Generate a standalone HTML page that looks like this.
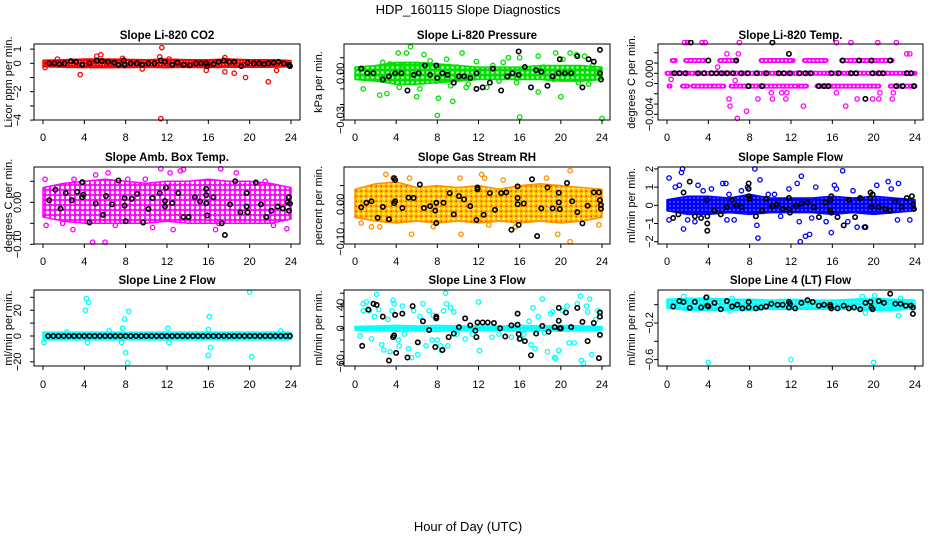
<!DOCTYPE html>
<html><head><meta charset="utf-8"><style>
html,body{margin:0;padding:0;background:#fff;}
svg{display:block;font-family:"Liberation Sans",Arial,sans-serif;}
</style></head><body>
<svg id="chart" width="936" height="540" viewBox="0 0 936 540" xmlns="http://www.w3.org/2000/svg">
<defs>
<pattern id="pat-red" width="3" height="3" patternUnits="userSpaceOnUse"><rect width="3" height="3" fill="#ff0000"/><circle cx="1.5" cy="1.5" r="0.6" fill="#ff9090"/></pattern>
<pattern id="pat-green" width="5" height="5" patternUnits="userSpaceOnUse"><rect width="5" height="5" fill="#00e000"/><circle cx="2.5" cy="2.5" r="1.3" fill="#c0ffc0"/></pattern>
<pattern id="pat-magenta" width="5" height="5" patternUnits="userSpaceOnUse"><rect width="5" height="5" fill="#ff00ff"/><circle cx="2.5" cy="2.5" r="1.7" fill="#ffffff"/></pattern>
<pattern id="pat-rh" width="5" height="5" patternUnits="userSpaceOnUse"><rect width="5" height="5" fill="#ffc000"/><circle cx="1.2" cy="1.2" r="0.8" fill="#ff2000"/><circle cx="3.7" cy="3.7" r="1.1" fill="#ffff80"/></pattern>
<pattern id="pat-blue" width="4" height="4" patternUnits="userSpaceOnUse"><rect width="4" height="4" fill="#0000ff"/><circle cx="2" cy="2" r="0.9" fill="#7070ff"/></pattern>
<pattern id="pat-cyan" width="4" height="4" patternUnits="userSpaceOnUse"><rect width="4" height="4" fill="#00ffff"/><circle cx="2" cy="2" r="0.9" fill="#b0ffff"/></pattern>
</defs>
<text x="468" y="14" text-anchor="middle" font-size="13">HDP_160115  Slope Diagnostics</text>
<text x="468" y="531" text-anchor="middle" font-size="13">Hour of Day (UTC)</text>
</svg>
<script>
// ---------- data ----------
const bandHours = [0,2,4,6,8,10,12,14,16,18,20,22,24];
const xTicks = [0,4,8,12,16,20,24];

const co2BandLo = [-0.25,-0.28,-0.3,-0.3,-0.3,-0.28,-0.3,-0.28,-0.3,-0.28,-0.28,-0.28,-0.25];
const co2BandHi = [0.22,0.25,0.3,0.3,0.28,0.25,0.3,0.25,0.25,0.3,0.25,0.25,0.2];
const co2Points = [[11.5,1.1],[11.4,-3.9],[3.6,-0.8],[21.8,-1.3],[19.6,-1.0],[17.6,-0.6],[18.5,-0.7],[15.8,-0.5],[22.6,-0.5],[5.2,0.5],[5.6,0.6],[11.3,0.45],[17.6,0.4],[1.4,0.3],[0.2,-0.3],[9.6,-0.4],[12.2,0.3],[7.7,0.35]];
const co2Black = [[0.6,0],[1.1,0],[1.6,-0.05],[2.1,0],[2.7,0.15],[3.2,0.1],[3.8,-0.1],[4.5,0],[5.2,0.2],[5.7,0.15],[6.3,0.1],[6.9,0.05],[7.3,-0.1],[7.8,0.2],[7.9,-0.1],[8.5,0],[9.1,0],[9.6,-0.1],[10.2,0],[10.8,0],[11.4,0.2],[11.8,0.1],[12.5,-0.1],[13.0,0.05],[13.6,-0.1],[14.2,-0.15],[14.8,0],[15.3,0],[15.8,0],[15.9,-0.2],[16.5,-0.05],[17.0,0.1],[17.5,0.2],[18.0,0.1],[18.5,0.1],[19.2,-0.2],[19.8,0.05],[20.4,0],[20.9,0],[21.4,-0.05],[21.8,0],[22.3,0.05],[22.8,0.1],[23.3,0],[23.8,-0.1],[23.9,-0.2]];

const presBandLo = [-0.004,-0.005,-0.007,-0.007,-0.006,-0.005,-0.004,-0.004,-0.004,-0.004,-0.005,-0.005,-0.004];
const presBandHi = [0.004,0.005,0.007,0.007,0.006,0.005,0.004,0.004,0.004,0.005,0.005,0.005,0.004];
const presPoints = [[5.4,0.017],[4.2,0.013],[5.0,0.013],[10.4,0.013],[6.7,0.012],[19.5,0.013],[20.9,0.013],[21.5,0.012],[22.3,0.011],[14.9,0.010],[16.0,0.010],[17.8,0.011],[11.8,0.0075],[0.8,-0.010],[2.4,-0.014],[3.1,-0.013],[4.3,-0.009],[5.1,-0.011],[6.0,-0.015],[6.3,-0.010],[8.1,-0.016],[9.5,-0.018],[8.0,-0.027],[16.0,-0.028],[24.0,-0.029],[20.0,-0.015],[17.8,-0.012],[21.7,-0.006],[12.8,-0.009],[10.8,-0.009],[14.0,-0.005],[19.3,-0.004],[3.4,0.006],[4.7,0.005],[8.9,0.009],[9.9,0.004],[13.4,0.005],[18.3,0.004],[20.2,0.009],[23.1,0.005],[7.9,-0.005],[15.7,-0.006],[2.7,0.007],[7.3,0.008],[9.3,-0.008],[11.0,-0.007],[14.4,0.007],[22.7,-0.007]];
const presBlack = [[0.6,0.003],[1.2,0],[1.8,0],[2.7,-0.004],[3.3,-0.002],[3.9,0],[4.5,0],[5.1,-0.011],[5.7,-0.001],[6.2,0],[6.8,0.005],[7.3,-0.001],[7.9,0.005],[8.0,-0.003],[8.5,0],[9.0,-0.001],[9.6,-0.006],[10.1,-0.002],[10.6,-0.002],[11.2,-0.003],[11.8,0],[11.8,-0.010],[12.4,-0.009],[13.1,-0.006],[13.4,0.003],[14.2,-0.011],[14.8,-0.002],[15.3,0],[15.9,0.014],[15.9,-0.001],[16.5,0.004],[17.1,-0.009],[17.6,0.002],[18.1,0.001],[18.7,-0.008],[19.2,-0.002],[19.8,0],[19.9,0.009],[20.4,0],[21.0,0],[21.6,0.011],[22.1,-0.009],[22.7,0.009],[23.2,0.0075],[23.8,0.015],[23.9,-0.004],[23.8,0]];

const tempSegments = [[0,0,24],[0.00125,0.5,0.8],[0.00125,1.8,3.6],[0.00125,5.1,6.7],[0.00125,9.1,12.2],[0.00125,13.3,15.4],[0.00125,16.9,20.5],[0.00125,20.7,21.8],[-0.00125,0.2,0.3],[-0.00125,1.5,2.0],[-0.00125,2.5,4.4],[-0.00125,4.5,5.5],[-0.00125,6.2,9.0],[-0.00125,9.2,12.8],[-0.00125,12.9,13.5],[-0.00125,14.5,20.5],[-0.00125,21.6,24]];
const tempPoints = [[0.4,-0.0006],[4.9,0.0006],[5.8,0.0019],[6.6,-0.0007],[6.9,0.0019],[7.0,0.003],[6.8,-0.0044],[7.7,-0.0037],[6.0,-0.0025],[6.1,-0.0032],[8.8,-0.0025],[10.1,-0.0019],[10.2,-0.0025],[11.1,-0.0019],[11.6,-0.0019],[11.5,-0.0025],[13.2,-0.0032],[16.4,-0.0019],[17.3,-0.0032],[18.4,-0.0025],[19.9,-0.0025],[20.5,-0.0025],[20.6,-0.0019],[21.8,-0.0025],[21.9,-0.0019],[23.2,0.0019],[23.5,0.0019],[1.7,0.003],[2.0,0.003],[3.4,0.003],[3.7,0.003],[16.4,0.003],[17.8,0.003],[20.4,0.003],[22.2,0.003]];
const tempBlack = [[0.7,0],[1.2,0],[1.8,0],[2.3,0.003],[3.0,0],[3.6,0],[4.0,0.00125],[4.3,0],[4.8,0],[5.3,0],[5.8,0],[6.4,0],[6.7,0.00125],[7.2,0],[7.8,0],[7.9,-0.00125],[8.7,0],[9.2,-0.00125],[9.6,0],[10.2,0.003],[10.8,0],[11.3,0],[11.8,0.0019],[11.9,0],[12.8,0],[13.4,0],[13.9,0],[14.7,-0.00125],[15.2,-0.00125],[15.6,-0.00125],[15.9,0],[16.6,0],[17.0,0.00125],[17.8,0],[18.3,0],[18.6,0.00125],[19.2,-0.0025],[19.8,0.00125],[19.9,0],[20.5,0],[20.9,0],[21.6,0.00125],[22.2,-0.00125],[22.8,-0.00125],[23.2,0],[23.6,0],[23.9,-0.00125]];

const ambBandLo = [-0.035,-0.045,-0.05,-0.05,-0.05,-0.05,-0.045,-0.05,-0.05,-0.05,-0.05,-0.05,-0.04];
const ambBandHi = [0.035,0.045,0.05,0.055,0.05,0.045,0.05,0.05,0.055,0.05,0.05,0.045,0.035];
const ambPoints = [[4.8,-0.095],[6.0,-0.095],[0.3,-0.055],[1.9,-0.05],[2.9,-0.065],[11.4,0.08],[13.3,0.075],[17.2,0.08],[16.7,-0.065],[17.0,-0.05],[23.6,-0.063],[5.1,0.065],[6.3,0.07],[9.9,0.055],[8.2,0.055],[12.3,0.07],[18.7,0.07],[0.2,0.055],[21.5,0.05],[3.0,0.055],[13.6,0.078],[7.0,-0.055],[10.6,-0.06],[12.6,-0.065],[22.3,-0.055]];
const ambBlack = [[0.6,0.005],[1.2,0.03],[1.7,-0.015],[2.2,0.022],[2.8,0.005],[3.3,0.025],[3.8,0.048],[3.8,0.012],[3.9,0.018],[4.5,-0.048],[5.1,-0.003],[5.8,-0.03],[6.1,0.015],[6.7,-0.005],[7.3,0.052],[7.9,0.01],[7.9,-0.008],[8.0,-0.045],[8.6,0.008],[9.1,0.02],[9.7,-0.048],[10.2,-0.016],[10.6,0.01],[11.3,0.022],[11.8,-0.01],[11.8,0.003],[11.9,0.035],[12.5,-0.002],[13.1,0.022],[13.6,-0.035],[14.1,-0.035],[14.7,0.012],[15.2,0.002],[15.8,-0.002],[15.8,0.017],[15.8,0.032],[15.9,-0.031],[16.5,0.012],[17.3,-0.05],[17.6,-0.078],[18.1,-0.005],[18.6,0.05],[19.1,-0.024],[19.7,0.022],[19.7,-0.01],[19.8,-0.024],[20.6,0.047],[21.1,-0.005],[21.6,-0.035],[22.1,-0.02],[22.7,-0.01],[23.2,-0.015],[23.7,0.0],[23.8,0.012],[23.8,-0.02],[23.9,-0.003]];

const rhBandLo = [-0.035,-0.045,-0.05,-0.045,-0.05,-0.045,-0.05,-0.045,-0.05,-0.045,-0.05,-0.045,-0.035];
const rhBandHi = [0.04,0.055,0.06,0.045,0.05,0.045,0.05,0.04,0.05,0.055,0.05,0.045,0.04];
const rhPoints = [[3.0,0.08],[3.7,0.07],[5.3,0.07],[10.2,0.07],[12.3,0.08],[12.6,0.07],[20.9,0.09],[0.6,-0.05],[1.6,-0.06],[5.5,-0.08],[10.3,-0.08],[19.7,-0.08],[20.9,-0.1],[23.7,-0.055],[15.6,-0.06],[13.0,-0.055],[14.4,0.065],[18.6,0.07],[7.6,-0.06],[2.4,-0.06]];
const rhBlack = [[0.6,-0.008],[1.1,0.004],[1.6,0.008],[2.2,-0.036],[2.7,-0.007],[3.3,-0.04],[3.8,0.07],[3.9,0.065],[3.8,0.003],[3.9,0.008],[4.6,-0.01],[5.2,0.018],[5.7,0.017],[6.3,0.053],[6.7,-0.01],[7.3,-0.005],[7.8,-0.017],[7.9,-0.05],[7.9,0.004],[8.6,0.004],[9.2,0.03],[9.6,-0.027],[10.1,0.022],[10.6,0.013],[11.2,-0.005],[11.8,-0.042],[11.9,0.04],[11.9,0.045],[12.5,-0.028],[13.1,0.03],[13.6,-0.015],[14.2,0.03],[14.7,0.032],[15.2,-0.068],[15.8,0.048],[15.8,0.017],[15.8,0.0],[15.9,-0.055],[16.4,0.002],[17.2,0.067],[17.7,-0.085],[18.1,-0.011],[18.7,0.045],[19.2,-0.011],[19.8,0.031],[19.8,0.005],[19.9,-0.013],[20.6,0.057],[21.1,0.008],[21.6,-0.021],[22.1,-0.051],[22.6,-0.004],[23.2,0.032],[23.7,0.032],[23.8,0.011],[23.9,-0.012],[23.9,-0.002]];

const flowBandLo = [-0.3,-0.5,-0.5,-0.4,-0.5,-0.4,-0.4,-0.4,-0.5,-0.4,-0.5,-0.4,-0.3];
const flowBandHi = [0.3,0.5,0.5,0.4,0.6,0.4,0.4,0.4,0.5,0.4,0.5,0.4,0.3];
const flowPoints = [[0.2,1.5],[0.2,-0.8],[0.8,1.0],[1.2,1.1],[1.4,1.8],[1.5,2.0],[1.6,-1.3],[3.0,1.1],[4.3,0.9],[5.4,1.2],[5.7,1.2],[6.5,-0.8],[7.8,1.0],[8.5,2.0],[8.7,-1.1],[8.8,-1.8],[9.0,1.4],[11.8,0.9],[12.6,1.2],[12.8,-0.9],[12.9,-2.0],[13.0,1.6],[13.4,-1.7],[13.8,-1.6],[14.4,1.0],[15.9,-1.5],[16.2,1.1],[17.0,1.9],[18.0,0.8],[18.4,-1.2],[19.1,-1.2],[20.3,1.1],[21.4,1.3],[21.7,0.9],[22.3,-0.8],[22.4,1.2],[23.5,-0.8],[16.4,0.9],[10.4,0.6],[5.8,-0.8],[2.7,-0.9],[9.8,0.6],[6.0,0.6],[15.4,-0.9],[3.5,0.8],[7.2,0.8],[2.0,-0.8],[11.0,-0.6],[14.0,-0.7],[17.5,-0.9]];
const flowBlack = [[0.6,-0.7],[1.1,-0.5],[1.6,0.7],[2.2,1.3],[2.7,-0.6],[3.3,-0.7],[3.9,-1.0],[3.9,-1.4],[3.9,-0.6],[3.9,0.3],[4.6,-0.3],[5.2,-0.5],[5.8,-0.1],[6.3,0.3],[6.7,0.0],[7.2,-0.1],[7.9,1.2],[7.9,0.9],[7.9,0.5],[8.0,0.35],[8.6,-0.6],[9.2,-0.3],[9.6,0.35],[10.2,-0.05],[10.6,0.05],[11.2,-0.2],[11.8,0.4],[11.8,-0.2],[11.9,-0.4],[12.5,-0.05],[13.0,0.1],[13.6,0.15],[14.2,-0.1],[14.7,-0.65],[15.3,0.15],[15.8,-0.3],[15.8,0.3],[15.9,0.5],[15.9,-0.4],[16.5,-0.65],[17.1,-1.1],[17.6,0.3],[18.2,-0.65],[18.7,0.4],[19.2,-1.2],[19.7,0.7],[19.7,0.4],[19.8,-0.1],[19.9,0.6],[20.5,-0.1],[21.1,-0.2],[21.6,-0.3],[22.1,0.2],[22.7,-0.1],[23.2,0.4],[23.7,0.5],[23.8,0.05],[23.9,-0.2]];

const line2BandLo = [-3,-3,-3,-3,-3,-3,-3,-3,-3,-3,-3,-3,-3];
const line2BandHi = [3,3,3,3,3,3,3,3,3,3,3,3,3];
const line2Points = [[0.1,-5],[4.1,20],[4.2,29],[4.4,26],[4.3,-5],[7.7,6],[7.6,-5],[7.9,13],[8.0,-13],[8.2,-21],[8.3,19],[12.1,6],[12.2,-5],[16.0,5],[16.1,15],[16.0,-15],[16.2,-9],[20.0,34],[20.2,-16],[23.0,4],[2.3,3],[6.4,4]];
const line2BlackHours = [0.5,1.0,1.5,2.0,2.5,3.0,3.5,4.0,4.5,5.0,5.5,6.0,6.5,7.0,7.5,8.0,8.5,9.0,9.5,10.0,10.5,11.0,11.5,12.0,12.5,13.0,13.5,14.0,14.5,15.0,15.5,16.0,16.5,17.0,17.5,18.0,18.5,19.0,19.5,20.0,20.5,21.0,21.5,22.0,22.5,23.0,23.5,23.9];
const line2BlackValues = [0,0,0,0,0,0,0,0,0,0,0,0,0,0,0,0,0,0,0,0,0,0,0,0,0,0,0,0,0,0,0,0,0,0,0,0,0,0,0,0,0,0,0,0,0,0,0,0];

const line3BandLo = [-3,-4,-5,-4,-5,-4,-4,-4,-5,-4,-5,-4,-3];
const line3BandHi = [3,4,5,4,5,4,4,4,5,4,5,4,3];
const line3Points = [[0.5,-13],[0.8,30],[0.8,42],[1.1,45],[1.4,30],[1.6,-18],[1.9,20],[2.1,58],[2.3,32],[2.6,-28],[2.8,-37],[3.2,15],[3.4,-40],[3.6,30],[3.7,48],[3.8,42],[4.2,-20],[4.3,-30],[4.6,38],[4.8,-10],[5.2,-35],[5.5,-50],[5.7,30],[6.1,-45],[6.3,20],[6.6,42],[6.9,-30],[7.2,30],[7.5,-20],[7.6,22],[8.0,-20],[8.3,-30],[8.4,-38],[8.6,30],[8.8,60],[8.9,42],[9.0,-30],[9.3,35],[9.6,28],[9.9,-10],[10.7,-18],[11.4,-10],[12.0,45],[12.1,-38],[13.3,-15],[14.0,-10],[15.2,-15],[16.1,-18],[16.4,-10],[16.9,12],[17.1,-28],[17.3,35],[17.5,-35],[17.8,20],[18.2,50],[18.4,-8],[18.7,-40],[19.0,25],[19.2,28],[19.4,-50],[19.5,-52],[19.8,-38],[20.2,30],[20.6,38],[20.8,-25],[21.3,-25],[21.6,42],[21.9,55],[22.0,-55],[22.2,-60],[22.5,38],[22.6,28],[22.8,50],[23.0,-45],[23.4,15],[23.6,30],[23.8,-12]];
const line3Black = [[0.7,-30],[1.3,32],[1.8,42],[2.1,40],[2.7,20],[3.3,-55],[3.7,-15],[3.8,-12],[3.9,23],[4.0,-42],[4.6,25],[5.1,-50],[5.6,38],[6.1,-24],[6.6,12],[7.2,-3],[7.8,-32],[7.9,20],[7.9,17],[8.5,-37],[9.1,-15],[9.6,-9],[10.1,2],[10.7,17],[11.2,5],[11.7,-4],[11.8,-15],[11.9,10],[12.4,10],[12.9,10],[13.5,9],[14.1,0],[14.6,-14],[15.2,5],[15.8,25],[15.8,6],[15.9,-10],[16.0,-18],[16.5,-22],[17.1,-46],[17.6,-9],[18.2,4],[18.8,-6],[19.4,2],[19.8,13],[19.8,35],[19.9,0],[20.0,0],[20.5,27],[21.0,2],[21.6,35],[22.1,11],[22.6,-22],[23.2,9],[23.8,27],[23.8,20],[23.8,-11],[23.7,-51]];

const line4BandLo = [-0.04,-0.06,-0.06,-0.06,-0.06,-0.05,-0.05,-0.05,-0.05,-0.05,-0.06,-0.06,-0.04];
const line4BandHi = [0.06,0.07,0.07,0.06,0.06,0.05,0.06,0.05,0.05,0.06,0.07,0.06,0.05];
const line4Points = [[4.0,-0.63],[12.0,-0.6],[20.0,-0.63],[1.6,0.09],[18.9,0.09],[20.1,0.1],[22.6,0.07],[19.2,-0.09],[22.4,-0.12],[6.1,-0.07],[3.9,0.08],[6.3,0.07]];
const line4Black = [[0.6,-0.02],[1.2,0.04],[1.6,0.03],[2.2,-0.035],[2.7,0.03],[3.3,-0.03],[3.8,0.08],[3.9,-0.01],[4.0,-0.02],[4.6,0.02],[5.2,-0.05],[5.8,0.04],[6.3,-0.02],[6.8,0.0],[7.3,-0.04],[7.9,-0.03],[7.9,0.03],[8.6,-0.04],[9.1,-0.03],[9.6,-0.02],[10.1,0.01],[10.7,0.0],[11.2,0.0],[11.8,0.03],[11.8,-0.03],[11.9,0.01],[12.4,-0.04],[13.0,0.02],[13.6,0.05],[14.1,0.03],[14.7,-0.01],[15.2,0.0],[15.8,0.0],[15.8,-0.02],[15.9,-0.04],[16.5,-0.04],[17.1,-0.01],[17.6,-0.04],[18.1,-0.03],[18.7,-0.05],[19.2,0.02],[19.7,0.03],[19.8,-0.03],[19.9,-0.05],[20.5,0.04],[21.0,0.02],[21.6,0.12],[22.1,0.01],[22.6,0.01],[23.1,-0.01],[23.6,-0.01],[23.8,-0.03],[23.8,-0.1]];

const yTicks1 = [-4,-3,-2,-1,0,1];          const yLabels1 = [[-4,"-4"],[-2,"-2"],[0,"0"],[1,"1"]];
const yTicks2 = [-0.03,-0.02,-0.01,0,0.01]; const yLabels2 = [[-0.03,"-0.03"],[0,"0.00"]];
const yTicks3 = [-0.004,-0.003,-0.002,-0.001,0,0.001,0.002]; const yLabels3 = [[-0.004,"-0.004"],[0,"0.000"]];
const yTicks4 = [-0.10,-0.05,0,0.05];       const yLabels4 = [[-0.10,"-0.10"],[0,"0.00"]];
const yTicks5 = [-0.10,-0.05,0,0.05];       const yLabels5 = [[-0.10,"-0.10"],[0,"0.00"]];
const yTicks6 = [-2,-1,0,1,2];              const yLabels6 = [[-2,"-2"],[-1,"-1"],[0,"0"],[1,"1"],[2,"2"]];
const yTicks7 = [-20,-10,0,10,20,30];       const yLabels7 = [[-20,"-20"],[0,"0"],[20,"20"]];
const yTicks8 = [-60,-40,-20,0,20,40,60];   const yLabels8 = [[-60,"-60"],[0,"0"],[40,"40"]];
const yTicks9 = [-0.6,-0.4,-0.2,0];         const yLabels9 = [[-0.6,"-0.6"],[-0.2,"-0.2"]];

// ---------- layout ----------
const NS = "http://www.w3.org/2000/svg";
const svg = document.getElementById("chart");
const cols = [{bl:34,br:300,x0:43,x24:291,tl:17,at:8},{bl:344,br:610,x0:355,x24:602,tl:340,at:318},{bl:658,br:923,x0:667,x24:915,tl:649,at:631}];
const rows = [{t:44,b:120,title:35,xl:137},{t:167,b:244,title:157,xl:261},{t:290,b:366,title:280,xl:384}];

const panels = [
 {name:"co2",title:"Slope Li-820 CO2",ylab:"Licor ppm per min.",c:0,r:0,y0:63.3,k:14.2,color:"#ff0000",pat:"pat-red",lo:co2BandLo,hi:co2BandHi,pts:co2Points,blk:co2Black,yt:yTicks1,yl:yLabels1},
 {name:"pressure",title:"Slope Li-820 Pressure",ylab:"kPa per min.",c:1,r:0,y0:73.3,k:1560,color:"#00e000",pat:"pat-green",lo:presBandLo,hi:presBandHi,pts:presPoints,blk:presBlack,yt:yTicks2,yl:yLabels2},
 {name:"temp",title:"Slope Li-820 Temp.",ylab:"degrees C per min.",c:2,r:0,y0:73.3,k:10250,color:"#ff00ff",pat:null,seg:tempSegments,pts:tempPoints,blk:tempBlack,yt:yTicks3,yl:yLabels3},
 {name:"amb-box-temp",title:"Slope Amb. Box Temp.",ylab:"degrees C per min.",c:0,r:1,y0:202.3,k:420,color:"#ff00ff",pat:"pat-magenta",lo:ambBandLo,hi:ambBandHi,pts:ambPoints,blk:ambBlack,yt:yTicks4,yl:yLabels4},
 {name:"gas-stream-rh",title:"Slope Gas Stream RH",ylab:"percent per min.",c:1,r:1,y0:204.3,k:374,color:"#ff9000",pat:"pat-rh",lo:rhBandLo,hi:rhBandHi,pts:rhPoints,blk:rhBlack,yt:yTicks5,yl:yLabels5},
 {name:"sample-flow",title:"Slope Sample Flow",ylab:"ml/min per min.",c:2,r:1,y0:205.3,k:18.2,color:"#0000ff",pat:"pat-blue",lo:flowBandLo,hi:flowBandHi,pts:flowPoints,blk:flowBlack,yt:yTicks6,yl:yLabels6},
 {name:"line2-flow",title:"Slope Line 2 Flow",ylab:"ml/min per min.",c:0,r:2,y0:336,k:1.29,color:"#00ffff",pat:"pat-cyan",lo:line2BandLo,hi:line2BandHi,pts:line2Points,blk:line2BlackHours.map((h,i)=>[h,line2BlackValues[i]]),yt:yTicks7,yl:yLabels7},
 {name:"line3-flow",title:"Slope Line 3 Flow",ylab:"ml/min per min.",c:1,r:2,y0:328.3,k:0.585,color:"#00ffff",pat:"pat-cyan",lo:line3BandLo,hi:line3BandHi,pts:line3Points,blk:line3Black,yt:yTicks8,yl:yLabels8},
 {name:"line4-flow",title:"Slope Line 4 (LT) Flow",ylab:"ml/min per min.",c:2,r:2,y0:304.7,k:91.5,color:"#00ffff",pat:"pat-cyan",lo:line4BandLo,hi:line4BandHi,pts:line4Points,blk:line4Black,yt:yTicks9,yl:yLabels9}
];

function mk(tag, attrs, parent){
  const e = document.createElementNS(NS, tag);
  for (const k in attrs) e.setAttribute(k, attrs[k]);
  (parent||svg).appendChild(e);
  return e;
}

panels.forEach(p => {
  const col = cols[p.c], row = rows[p.r];
  const xs = h => col.x0 + h*(col.x24-col.x0)/24;
  const ys = v => p.y0 - v*p.k;
  const g = mk("g", {});
  
  
  const clipId = "clip-" + p.name;
  const cp = mk("clipPath", {id: clipId}, g);
  mk("rect", {x: col.bl-4, y: row.t-4, width: col.br-col.bl+8, height: row.b-row.t+8}, cp);
  const plot = mk("g", {"clip-path": "url(#" + clipId + ")"}, g);
  
  

  if (p.lo) {
    let d = bandHours.map((h,i) => (i?"L":"M") + xs(h).toFixed(1) + "," + ys(p.hi[i]).toFixed(1)).join("");
    for (let i = bandHours.length-1; i >= 0; i--) d += "L" + xs(bandHours[i]).toFixed(1) + "," + ys(p.lo[i]).toFixed(1);
    const band = mk("path", {d: d + "Z", fill: "url(#" + p.pat + ")", stroke: p.color, "stroke-width": 1.5, "stroke-linejoin": "round"}, plot);
    
    
  }
  if (p.seg) {
    p.seg.forEach(s => {
      const seg = mk("line", {x1: xs(s[1]), x2: xs(s[2]), y1: ys(s[0]), y2: ys(s[0]), stroke: p.color, "stroke-width": 5, "stroke-linecap": "round"}, plot);
      
      
      mk("line", {x1: xs(s[1]), x2: xs(s[2]), y1: ys(s[0]), y2: ys(s[0]), stroke: "#ffffff", "stroke-width": 1.5, "stroke-dasharray": "2 2"}, plot);
    });
  }
  p.pts.forEach(pt => {
    const c = mk("circle", {cx: xs(pt[0]), cy: ys(pt[1]), r: 2.2, fill: "none", stroke: p.color, "stroke-width": 1.3}, plot);
    
    
  });
  p.blk.forEach(pt => {
    const c = mk("circle", {cx: xs(pt[0]), cy: ys(pt[1]), r: 2.2, fill: "none", stroke: "#000000", "stroke-width": 1.6}, plot);
    
    
  });

  const box = mk("rect", {x: col.bl, y: row.t, width: col.br-col.bl, height: row.b-row.t, fill: "none", stroke: "#000", "stroke-width": 1}, g);
  
  
  xTicks.forEach(t => {
    mk("line", {x1: xs(t), x2: xs(t), y1: row.b, y2: row.b+4, stroke: "#000"}, g);
    const tx = mk("text", {x: xs(t), y: row.xl+4, "text-anchor": "middle", "font-size": 11}, g);
    tx.textContent = t;
    
    
  });
  p.yt.forEach(t => {
    mk("line", {x1: col.bl-4, x2: col.bl, y1: ys(t), y2: ys(t), stroke: "#000"}, g);
  });
  p.yl.forEach(l => {
    const ty = ys(l[0]);
    const tx = mk("text", {x: col.tl+4, y: ty, "text-anchor": "middle", "font-size": 11, transform: "rotate(-90 " + (col.tl+4) + " " + ty + ")"}, g);
    tx.textContent = l[1].replace("-", "\u2212");
    
    
  });
  const my = (row.t + row.b)/2;
  const yt = mk("text", {x: col.at+4, y: my, "text-anchor": "middle", "font-size": 11, transform: "rotate(-90 " + (col.at+4) + " " + my + ")"}, g);
  yt.textContent = p.ylab;
  
  
  const tt = mk("text", {x: (col.bl+col.br)/2, y: row.title+4, "text-anchor": "middle", "font-size": 11.5, "font-weight": "bold"}, g);
  tt.textContent = p.title;
  
  
});
</script>
</body></html>
